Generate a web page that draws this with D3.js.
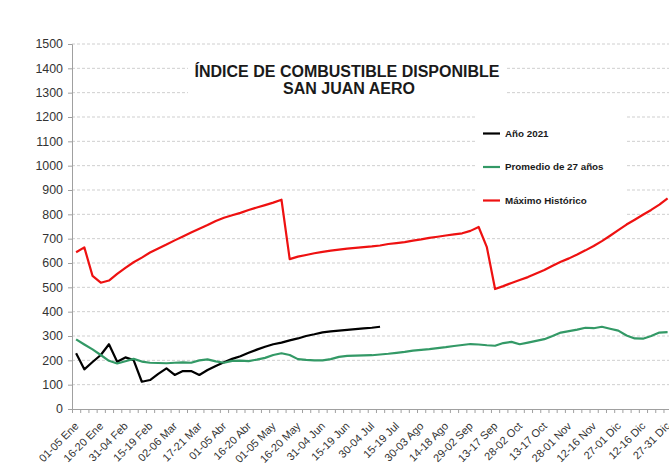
<!DOCTYPE html>
<html><head><meta charset="utf-8">
<script src="https://cdn.jsdelivr.net/npm/d3@7"></script>
<style>body{margin:0;background:#fff}svg{display:block}</style>
</head><body><svg id="c" width="669" height="464"></svg>
<script>
const tickLabels = ["01-05 Ene","16-20 Ene","31-04 Feb","15-19 Feb","02-06 Mar","17-21 Mar","01-05 Abr","16-20 Abr","01-05 May","16-20 May","31-04 Jun","15-19 Jun","30-04 Jul","15-19 Jul","30-03 Ago","14-18 Ago","29-02 Sep","13-17 Sep","28-02 Oct","13-17 Oct","28-01 Nov","12-16 Nov","27-01 Dic","12-16 Dic","27-31 Dic"];
const nCategories = 73;
const yTicks = [0,100,200,300,400,500,600,700,800,900,1000,1100,1200,1300,1400,1500];

const anio2021 = [229,163,193,222,266,194,212,201,112,119,144,167,140,156,156,140,160,177,192,206,217,231,244,256,266,273,282,290,300,307,315,319,322,325,328,331,334,338];
const promedio = [286,265,245,222,198,187,196,206,195,190,189,188,190,192,190,200,204,196,190,198,199,197,203,210,222,229,222,205,202,200,200,205,214,218,219,220,221,224,227,231,235,240,243,246,250,254,259,263,267,265,262,260,271,276,266,273,280,287,300,314,320,326,334,332,338,330,322,302,290,289,300,314,316];
const maximo = [644,664,547,519,528,555,580,603,622,643,660,676,693,709,725,741,756,773,786,796,806,818,828,838,848,860,616,626,633,640,646,651,655,659,662,665,668,672,678,682,686,692,697,703,708,713,718,722,732,748,665,493,505,518,530,542,557,571,589,605,619,635,652,670,690,712,735,758,778,798,818,840,866];

const seriesNames = ["Año 2021","Promedio de 27 años","Máximo Histórico"];
const seriesColors = ["#000000","#339966","#ee1111"];
const seriesData = [anio2021, promedio, maximo];

(function(){
const svg = d3.select("#c");
const W = 669;
const mLeft = 72, mTop = 44, mBottom = 409, bw = 8.215;
const font = "'Liberation Sans', Arial, sans-serif";

const x = d3.scaleBand().domain(d3.range(nCategories)).range([mLeft, mLeft + nCategories*bw]).padding(0);
const xb = d3.scaleLinear().domain([0, nCategories]).range([mLeft, mLeft + nCategories*bw]);
const y = d3.scaleLinear().domain([0,1500]).range([mBottom, mTop]);

svg.append("g").selectAll("line").data(yTicks.filter(d=>d>0)).join("line")
  .attr("x1", mLeft).attr("x2", W).attr("y1", d=>y(d)).attr("y2", d=>y(d))
  .attr("stroke", "#cfcfcf").attr("stroke-width", 1).attr("stroke-dasharray", "3,2");

const ya = svg.append("g").attr("transform", `translate(${mLeft},0)`)
  .call(d3.axisLeft(y).tickValues(yTicks).tickSize(4).tickPadding(5).tickFormat(d3.format("d")));
ya.select(".domain").attr("stroke", "#a0a0a0");
ya.selectAll(".tick line").attr("stroke", "#a0a0a0");
ya.selectAll("text").attr("font-family", font).attr("font-size", "12.4px").attr("fill", "#333");

const xa = svg.append("g").attr("transform", `translate(0,${mBottom})`)
  .call(d3.axisBottom(xb).tickValues(d3.range(0, nCategories+1)).tickSize(4).tickFormat(""));
xa.select(".domain").attr("stroke", "#a0a0a0");
xa.selectAll(".tick line").attr("stroke", "#a0a0a0");

svg.append("g").selectAll("text").data(tickLabels).join("text")
  .attr("transform", (d,i)=>`translate(${x(i*3)+bw/2+0.5},${mBottom+15}) rotate(-45)`)
  .attr("text-anchor", "end").attr("dy", "0.35em")
  .attr("font-family", font).attr("font-size", "11px").attr("fill", "#333")
  .text(d=>d);

const line = d3.line().x((d,i)=>x(i)+bw/2).y(d=>y(d));
svg.append("g").selectAll("path").data(seriesData).join("path")
  .attr("d", d=>line(d)).attr("fill", "none")
  .attr("stroke", (d,i)=>seriesColors[i]).attr("stroke-width", 2.2)
  .attr("stroke-linejoin", "round");

svg.append("rect").attr("x", 188).attr("y", 58).attr("width", 318).attr("height", 40).attr("fill", "#fff");
const t = svg.append("text").attr("font-family", font).attr("font-weight", "bold").attr("font-size", "16px")
  .attr("fill", "#1a1a1a").attr("text-anchor", "middle");
t.append("tspan").attr("x", 347).attr("y", 77).text("ÍNDICE DE COMBUSTIBLE DISPONIBLE");
t.append("tspan").attr("x", 349).attr("y", 94).text("SAN JUAN AERO");

const lg = svg.append("g");
lg.append("rect").attr("x", 476).attr("y", 116).attr("width", 150).attr("height", 100).attr("fill", "#fff");
const ly = [133.5, 167, 200.5];
seriesNames.forEach((s,i)=>{
  lg.append("line").attr("x1", 483).attr("x2", 500).attr("y1", ly[i]).attr("y2", ly[i])
    .attr("stroke", seriesColors[i]).attr("stroke-width", 2.2);
  lg.append("text").attr("x", 505).attr("y", ly[i]).attr("dy", "0.35em")
    .attr("font-family", font).attr("font-weight", "bold").attr("font-size", "9.8px").attr("fill", "#1a1a1a").text(s);
});
})();
</script></body></html>
